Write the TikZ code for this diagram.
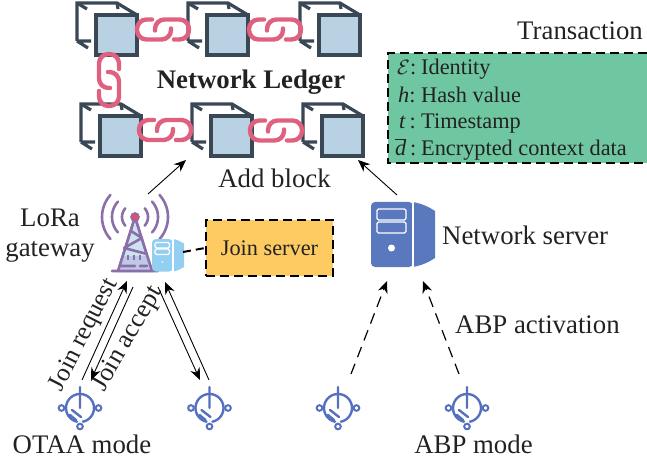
\documentclass[tikz,border=0pt]{standalone}
\usepackage{fontspec}
\setmainfont{Liberation Serif}
\usetikzlibrary{arrows.meta}
\definecolor{cubeline}{HTML}{3A4856}
\definecolor{cubefill}{HTML}{B8D1E3}
\definecolor{linkpink}{HTML}{E0607F}
\definecolor{devblue}{HTML}{5470BE}
\definecolor{srvblue}{HTML}{5A78BE}
\definecolor{srvlight}{HTML}{93CFF0}
\definecolor{towerline}{HTML}{8A6FA8}
\definecolor{greenbox}{HTML}{6FC7A2}
\definecolor{yellowbox}{HTML}{FDCB62}
\definecolor{inkc}{HTML}{222222}
\newcommand{\cubeicon}[2]{%
  \begin{scope}[shift={(#1,#2)},draw=cubeline,line width=3.2pt]
    \draw[line join=miter] (0,38) -- (0,0) -- (40,0) -- (60,12);
    \draw (0,0) -- (10,6) (40,0) -- (41,6) (0,38) -- (14,38) (0,38) -- (11,45);
    \draw[fill=cubefill] (19,12) rectangle (60,52);
  \end{scope}}
\newcommand{\chainlink}[3]{%
  \begin{scope}[shift={(#1,#2)},rotate=#3,draw=linkpink,line width=4.4pt,line cap=round]
    \draw[rounded corners=9.5pt] (-11,-10) -- (-26,-10) -- (-26,10) -- (8,10) -- (8,-1);
    \draw[rounded corners=9.5pt] (11,10) -- (26,10) -- (26,-10) -- (-8,-10) -- (-8,1);
  \end{scope}}
\newcommand{\deviceicon}[2]{%
  \begin{scope}[shift={(#1,#2)},draw=devblue,line width=2.4pt,line cap=round]
    \draw plot[domain=-78:258,samples=40] ({14*cos(\x)},{-14*sin(\x)});
    \draw (0,-21) -- (0,0) (-8,2) -- (1,9) (-10,7) -- (-4,12);
    \draw[fill=white,line width=2pt] (-18.5,0) circle[radius=2.8pt] (18.5,0) circle[radius=2.8pt] (0,18.5) circle[radius=2.8pt];
  \end{scope}}
\newcommand{\servericon}[4]{%
  \begin{scope}[shift={(#1,#2)},scale=#3]
    \fill[#4] (42,0) .. controls (52,2) and (58,5) .. (64,9) -- (64,56) .. controls (58,60) and (52,63) .. (42,65) -- cycle;
    \fill[#4,rounded corners=4pt] (0,0) rectangle (42,65);
    \draw[white,line width=1.6pt] (42,0) -- (42,65);
    \draw[white,line width=1.4pt,rounded corners=1.5pt] (6,7) rectangle (35,18) (6,20) rectangle (35,31);
    \fill[white] (20.5,46) circle[radius=3.5*#3 pt];
  \end{scope}}
\tikzset{
  lbl/.style={text=inkc,font=\fontsize{26.8}{30}\selectfont,inner sep=0pt},
  rowlbl/.style={text=inkc,font=\fontsize{22.3}{26}\selectfont,inner sep=0pt,anchor=base west},
  arr/.style={draw=black,line width=.9pt,-{Stealth[length=12pt,width=10pt]}},
  dasharr/.style={arr,line width=1.2pt,dash pattern=on 11pt off 7pt},
}
\begin{document}
\begin{tikzpicture}[x=1pt,y=-1pt]
\useasboundingbox (0,0) rectangle (647,462);
% ledger
\cubeicon{77}{3}\cubeicon{188}{3}\cubeicon{300}{3}
\cubeicon{81}{104}\cubeicon{192}{104}\cubeicon{303}{104}
\chainlink{163}{29.5}{0}\chainlink{275}{29.5}{0}
\chainlink{165}{130}{0}\chainlink{276}{130.5}{0}
\chainlink{109}{80}{90}
\node[lbl,font=\fontsize{26.8}{30}\selectfont\bfseries] (ledger) at (251,82) {Network Ledger};
% transaction
\node[lbl,anchor=east] (txtitle) at (643,31) {Transaction};
\node[fill=greenbox,minimum width=259pt,minimum height=110pt,inner sep=0pt,anchor=north west] (txbox) at (388,53) {};
\draw[line width=2pt,dash pattern=on 9pt off 5pt] (txbox.north east) -- (txbox.north west) -- (txbox.south west) -- (txbox.south east);
\node[rowlbl] (r1l) at (397,75) {$\mathcal{E}$:};
\node[rowlbl] (r1) at (421,75) {Identity};
\node[rowlbl] (r2l) at (398,102.5) {\textit{h}:};
\node[rowlbl] (r2) at (421,102.5) {Hash value};
\node[rowlbl] (r3l) at (399,129) {\textit{t}\,:};
\node[rowlbl] (r3) at (421,129) {Timestamp};
\node[rowlbl] (r4l) at (395,156) {$\overline{\mbox{\textit{d}}}$\,:};
\node[rowlbl] (r4) at (421,156) {Encrypted context data};
% add block
\node[lbl] (addblock) at (274.5,178) {Add block};
% gateway
\node[lbl] (lora) at (50,218) {LoRa};
\node[lbl] (gwlbl) at (50,252) {gateway};
\draw[towerline,line width=2.2pt,fill=cubefill!70!srvlight!60!white] (135,217) -- (118,271) -- (152,271) -- cycle;
\fill[srvblue!40!white] (122.5,256) -- (147.5,256) -- (152,271) -- (118,271) -- cycle;
\draw[towerline,line width=2.6pt,line cap=round,line join=round]
  (135,217) -- (118,271) (135,217) -- (152,271) (112,271) -- (158,271)
  (131,231) -- (142,238) -- (124,248) -- (147,254)
  (121,266) -- (135,266) (140,266) -- (147,266);
\draw[towerline,line width=2pt] (128,255) -- (128,260) (134,255) -- (134,260) (140,255) -- (140,260);
\foreach \r in {13,23,33}{
  \draw[towerline,line width=2.6pt,line cap=round] plot[domain=-42:42,samples=15] ({135+\r*cos(\x)},{217+\r*sin(\x)});
  \draw[towerline,line width=2.6pt,line cap=round] plot[domain=138:222,samples=15] ({135+\r*cos(\x)},{217+\r*sin(\x)});
}
\draw[towerline,line width=1.6pt,fill=linkpink!80!red] (135,217) circle[radius=4pt];
\servericon{152}{239}{.5}{srvlight}
% join server
\node[draw=black,line width=2pt,dash pattern=on 9pt off 5pt,fill=yellowbox,minimum width=127pt,minimum height=56pt,inner sep=0pt,anchor=north west,text=inkc,font=\fontsize{22.3}{26}\selectfont] (js) at (205,219) {Join server};
\coordinate (gwport) at (183,252);
\draw[line width=2pt,dash pattern=on 8pt off 5pt] (gwport) -- (js.west);
% network server
\servericon{371}{202}{1}{srvblue}
\node[lbl,anchor=west] (nslbl) at (442,235) {Network server};
% devices
\deviceicon{80}{408}\deviceicon{209.5}{408}\deviceicon{338}{408}\deviceicon{467}{408}
\node[lbl] (otaa) at (82,444) {OTAA mode};
\node[lbl] (abpm) at (473.5,444) {ABP mode};
\node[lbl,anchor=west] (abpa) at (455,325) {ABP activation};
\node[lbl,rotate=63,font=\fontsize{25.5}{29}\selectfont] (jreq) at (84.5,335) {Join request};
\node[lbl,rotate=60,font=\fontsize{26}{30}\selectfont] (jacc) at (128,339) {Join accept};
% connectors
\coordinate (a1s) at (148,194); \coordinate (a1e) at (186,160);
\coordinate (a2s) at (397,195); \coordinate (a2e) at (358,160);
\coordinate (b1s) at (82,380); \coordinate (b1e) at (127,281);
\coordinate (b2s) at (133,287); \coordinate (b2e) at (91,380);
\coordinate (c1s) at (209,380); \coordinate (c1e) at (165,282);
\coordinate (c2s) at (158,287); \coordinate (c2e) at (200,380);
\coordinate (d1s) at (351,374); \coordinate (d1e) at (387,281);
\coordinate (d2s) at (459,374); \coordinate (d2e) at (423,281);
\draw[arr] (a1s) -- (a1e);
\draw[arr] (a2s) -- (a2e);
\draw[arr] (b1s) -- (b1e);
\draw[arr] (b2s) -- (b2e);
\draw[arr] (c1s) -- (c1e);
\draw[arr] (c2s) -- (c2e);
\draw[dasharr] (d1s) -- (d1e);
\draw[dasharr] (d2s) -- (d2e);
\end{tikzpicture}
\end{document}
